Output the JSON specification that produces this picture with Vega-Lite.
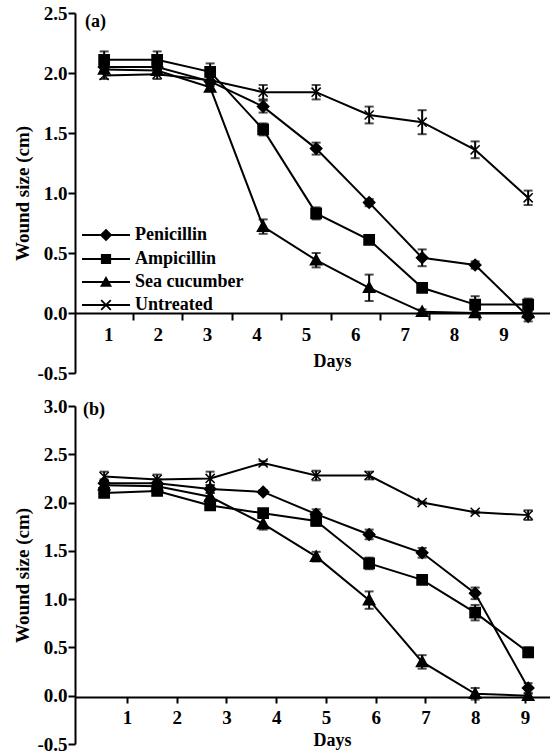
{
  "$schema": "https://vega.github.io/schema/vega-lite/v6.json",
  "background": "white",
  "padding": {"left": 13, "top": 4, "right": 0, "bottom": 0},
  "spacing": 14,
  "config": {
    "view": {"stroke": null},
    "font": "Liberation Serif",
    "axis": {"domainColor": "black", "domainWidth": 2, "tickColor": "black", "tickWidth": 2, "labelColor": "black", "titleColor": "black", "labelFont": "Liberation Serif", "titleFont": "Liberation Serif", "labelFontWeight": "bold", "titleFontWeight": "bold", "labelFontSize": 19, "titleFontSize": 18, "grid": false}
  },
  "datasets": {
    "a": [
      {"s": "Penicillin", "d": 1, "v": 2.05, "lo": 2.01, "hi": 2.09},
      {"s": "Penicillin", "d": 2, "v": 2.05, "lo": 2.01, "hi": 2.09},
      {"s": "Penicillin", "d": 3, "v": 1.93, "lo": 1.89, "hi": 1.97},
      {"s": "Penicillin", "d": 4, "v": 1.72, "lo": 1.67, "hi": 1.77},
      {"s": "Penicillin", "d": 5, "v": 1.37, "lo": 1.32, "hi": 1.42},
      {"s": "Penicillin", "d": 6, "v": 0.92, "lo": 0.89, "hi": 0.95},
      {"s": "Penicillin", "d": 7, "v": 0.46, "lo": 0.39, "hi": 0.53},
      {"s": "Penicillin", "d": 8, "v": 0.40, "lo": 0.37, "hi": 0.43},
      {"s": "Penicillin", "d": 9, "v": -0.03, "lo": -0.07, "hi": 0.01},
      {"s": "Ampicillin", "d": 1, "v": 2.11, "lo": 2.04, "hi": 2.18},
      {"s": "Ampicillin", "d": 2, "v": 2.11, "lo": 2.04, "hi": 2.18},
      {"s": "Ampicillin", "d": 3, "v": 2.01, "lo": 1.94, "hi": 2.08},
      {"s": "Ampicillin", "d": 4, "v": 1.53, "lo": 1.48, "hi": 1.58},
      {"s": "Ampicillin", "d": 5, "v": 0.83, "lo": 0.78, "hi": 0.88},
      {"s": "Ampicillin", "d": 6, "v": 0.61, "lo": 0.59, "hi": 0.63},
      {"s": "Ampicillin", "d": 7, "v": 0.21, "lo": 0.19, "hi": 0.23},
      {"s": "Ampicillin", "d": 8, "v": 0.07, "lo": 0.00, "hi": 0.14},
      {"s": "Ampicillin", "d": 9, "v": 0.07, "lo": 0.02, "hi": 0.12},
      {"s": "Sea cucumber", "d": 1, "v": 2.03, "lo": 2.00, "hi": 2.06},
      {"s": "Sea cucumber", "d": 2, "v": 2.02, "lo": 1.99, "hi": 2.05},
      {"s": "Sea cucumber", "d": 3, "v": 1.88, "lo": 1.85, "hi": 1.91},
      {"s": "Sea cucumber", "d": 4, "v": 0.72, "lo": 0.66, "hi": 0.78},
      {"s": "Sea cucumber", "d": 5, "v": 0.44, "lo": 0.38, "hi": 0.50},
      {"s": "Sea cucumber", "d": 6, "v": 0.21, "lo": 0.10, "hi": 0.32},
      {"s": "Sea cucumber", "d": 7, "v": 0.01, "lo": -0.01, "hi": 0.03},
      {"s": "Sea cucumber", "d": 8, "v": 0.00, "lo": -0.02, "hi": 0.02},
      {"s": "Sea cucumber", "d": 9, "v": 0.00, "lo": -0.02, "hi": 0.02},
      {"s": "Untreated", "d": 1, "v": 1.98, "lo": 1.95, "hi": 2.01},
      {"s": "Untreated", "d": 2, "v": 1.99, "lo": 1.95, "hi": 2.03},
      {"s": "Untreated", "d": 3, "v": 1.94, "lo": 1.90, "hi": 1.98},
      {"s": "Untreated", "d": 4, "v": 1.84, "lo": 1.78, "hi": 1.90},
      {"s": "Untreated", "d": 5, "v": 1.84, "lo": 1.78, "hi": 1.90},
      {"s": "Untreated", "d": 6, "v": 1.65, "lo": 1.58, "hi": 1.72},
      {"s": "Untreated", "d": 7, "v": 1.59, "lo": 1.49, "hi": 1.69},
      {"s": "Untreated", "d": 8, "v": 1.36, "lo": 1.29, "hi": 1.43},
      {"s": "Untreated", "d": 9, "v": 0.96, "lo": 0.90, "hi": 1.02}
    ],
    "b": [
      {"s": "Penicillin", "d": 1, "v": 2.20, "lo": 2.16, "hi": 2.24},
      {"s": "Penicillin", "d": 2, "v": 2.20, "lo": 2.16, "hi": 2.24},
      {"s": "Penicillin", "d": 3, "v": 2.14, "lo": 2.10, "hi": 2.18},
      {"s": "Penicillin", "d": 4, "v": 2.11, "lo": 2.09, "hi": 2.13},
      {"s": "Penicillin", "d": 5, "v": 1.88, "lo": 1.83, "hi": 1.93},
      {"s": "Penicillin", "d": 6, "v": 1.67, "lo": 1.62, "hi": 1.72},
      {"s": "Penicillin", "d": 7, "v": 1.48, "lo": 1.43, "hi": 1.53},
      {"s": "Penicillin", "d": 8, "v": 1.06, "lo": 1.00, "hi": 1.12},
      {"s": "Penicillin", "d": 9, "v": 0.08, "lo": 0.03, "hi": 0.13},
      {"s": "Ampicillin", "d": 1, "v": 2.10, "lo": 2.07, "hi": 2.13},
      {"s": "Ampicillin", "d": 2, "v": 2.12, "lo": 2.09, "hi": 2.15},
      {"s": "Ampicillin", "d": 3, "v": 1.97, "lo": 1.93, "hi": 2.01},
      {"s": "Ampicillin", "d": 4, "v": 1.89, "lo": 1.86, "hi": 1.92},
      {"s": "Ampicillin", "d": 5, "v": 1.81, "lo": 1.76, "hi": 1.86},
      {"s": "Ampicillin", "d": 6, "v": 1.37, "lo": 1.31, "hi": 1.43},
      {"s": "Ampicillin", "d": 7, "v": 1.20, "lo": 1.18, "hi": 1.22},
      {"s": "Ampicillin", "d": 8, "v": 0.86, "lo": 0.78, "hi": 0.94},
      {"s": "Ampicillin", "d": 9, "v": 0.45, "lo": 0.40, "hi": 0.50},
      {"s": "Sea cucumber", "d": 1, "v": 2.18, "lo": 2.14, "hi": 2.22},
      {"s": "Sea cucumber", "d": 2, "v": 2.17, "lo": 2.13, "hi": 2.21},
      {"s": "Sea cucumber", "d": 3, "v": 2.06, "lo": 2.02, "hi": 2.10},
      {"s": "Sea cucumber", "d": 4, "v": 1.78, "lo": 1.72, "hi": 1.84},
      {"s": "Sea cucumber", "d": 5, "v": 1.44, "lo": 1.39, "hi": 1.49},
      {"s": "Sea cucumber", "d": 6, "v": 0.99, "lo": 0.90, "hi": 1.08},
      {"s": "Sea cucumber", "d": 7, "v": 0.35, "lo": 0.28, "hi": 0.42},
      {"s": "Sea cucumber", "d": 8, "v": 0.02, "lo": -0.04, "hi": 0.08},
      {"s": "Sea cucumber", "d": 9, "v": 0.00, "lo": -0.02, "hi": 0.02},
      {"s": "Untreated", "d": 1, "v": 2.27, "lo": 2.22, "hi": 2.32},
      {"s": "Untreated", "d": 2, "v": 2.24, "lo": 2.19, "hi": 2.29},
      {"s": "Untreated", "d": 3, "v": 2.25, "lo": 2.18, "hi": 2.32},
      {"s": "Untreated", "d": 4, "v": 2.41, "lo": 2.39, "hi": 2.43},
      {"s": "Untreated", "d": 5, "v": 2.28, "lo": 2.23, "hi": 2.33},
      {"s": "Untreated", "d": 6, "v": 2.28, "lo": 2.24, "hi": 2.32},
      {"s": "Untreated", "d": 7, "v": 2.00, "lo": 1.99, "hi": 2.01},
      {"s": "Untreated", "d": 8, "v": 1.90, "lo": 1.89, "hi": 1.91},
      {"s": "Untreated", "d": 9, "v": 1.87, "lo": 1.82, "hi": 1.92}
    ]
  },
  "resolve": {"scale": {"shape": "independent"}, "legend": {"shape": "independent"}},
  "vconcat": [
    {
      "width": 477,
      "height": 360,
      "title": {"text": "(a)", "anchor": "start", "frame": "group", "offset": -27, "dx": 10, "fontSize": 18, "font": "Liberation Serif", "fontWeight": "bold", "color": "black"},
      "resolve": {"scale": {"x": "independent"}, "axis": {"x": "independent"}},
      "layer": [
        {
          "data": {"name": "a"},
          "mark": {"type": "point", "opacity": 0},
          "encoding": {
            "x": {"field": "d", "type": "quantitative", "scale": {"domain": [0.326, 9.982], "nice": false, "zero": false},
              "axis": {"orient": "bottom", "title": "Days", "values": [1.5, 2.5, 3.5, 4.5, 5.5, 6.5, 7.5, 8.5, 9.5], "labelExpr": "'' + floor(datum.value)", "labelOffset": -24.7, "offset": -60, "tickSize": 7, "labelPadding": 5, "labelFlush": false, "labelOverlap": false, "labelBound": false, "titleX": 257, "titlePadding": 8}}
          }
        },
        {
          "data": {"name": "a"},
          "resolve": {"scale": {"shape": "independent"}, "legend": {"shape": "independent"}},
          "encoding": {
            "x": {"field": "d", "type": "quantitative", "scale": {"domain": [0.45, 9.45], "nice": false, "zero": false}, "axis": null},
            "y": {"field": "v", "type": "quantitative", "scale": {"domain": [-0.5, 2.5], "nice": false, "zero": false},
              "axis": {"title": "Wound size (cm)", "values": [-0.5, 0, 0.5, 1, 1.5, 2, 2.5], "labelExpr": "replace(format(datum.value, '.1f'), '\u2212', '-')", "tickSize": 7, "labelPadding": 1, "titlePadding": 4, "titleFontSize": 19}}
          },
          "layer": [
            {"mark": {"type": "line", "color": "black", "strokeWidth": 2}, "encoding": {"detail": {"field": "s"}}},
            {"mark": {"type": "errorbar", "color": "black", "ticks": true, "thickness": 2, "size": 9},
              "encoding": {
                "y": {"field": "lo", "type": "quantitative", "scale": {"domain": [-0.5, 2.5], "nice": false, "zero": false},
                  "axis": {"title": "Wound size (cm)", "values": [-0.5, 0, 0.5, 1, 1.5, 2, 2.5], "labelExpr": "replace(format(datum.value, '.1f'), '\u2212', '-')", "tickSize": 7, "labelPadding": 1, "titlePadding": 4, "titleFontSize": 19}},
                "y2": {"field": "hi"}
              }},
            {"mark": {"type": "point", "filled": true, "color": "black", "stroke": "black", "strokeWidth": 1.5, "opacity": 1, "size": 130},
              "encoding": {
                "shape": {"field": "s", "type": "nominal",
                  "scale": {"domain": ["Penicillin", "Ampicillin", "Sea cucumber", "Untreated"], "range": ["M0,-1L1,0L0,1L-1,0Z", "M-0.9,-0.9H0.9V0.9H-0.9Z", "M0,-1L1,0.8H-1Z", "M-0.8,-0.8L0.8,0.8M-0.8,0.8L0.8,-0.8"]},
                  "legend": null
                }
              }},
            {"transform": [{"filter": "datum.d > 100"}],
              "mark": {"type": "point", "filled": true, "color": "black", "opacity": 1, "size": 144},
              "encoding": {
                "shape": {"field": "s", "type": "nominal",
                  "scale": {"domain": ["Penicillin", "Ampicillin", "Sea cucumber", "Untreated"], "range": [
                    "M-4,-0.15H4V0.15H-4ZM0,-1.05L1.05,0L0,1.05L-1.05,0Z",
                    "M-4,-0.15H4V0.15H-4ZM-0.85,-0.85H0.85V0.85H-0.85Z",
                    "M-4,-0.15H4V0.15H-4ZM0,-1L1,0.8H-1Z",
                    "M-4,-0.15H4V0.15H-4ZM-0.694,-0.906L0.906,0.694L0.694,0.906L-0.906,-0.694ZM-0.906,0.694L0.694,-0.906L0.906,-0.694L-0.694,0.906Z"]},
                  "legend": {"title": null, "orient": "none", "legendX": 22, "legendY": 213, "padding": 0, "symbolSize": 144, "labelFontSize": 18, "labelFont": "Liberation Serif", "labelFontWeight": "bold", "labelColor": "black", "labelOffset": 20, "rowPadding": 5, "symbolFillColor": "black", "symbolOpacity": 1}
                }
              }}
          ]
        }
      ]
    },
    {
      "width": 477,
      "height": 338,
      "title": {"text": "(b)", "anchor": "start", "frame": "group", "offset": -22, "dx": 8, "fontSize": 18, "font": "Liberation Serif", "fontWeight": "bold", "color": "black"},
      "resolve": {"scale": {"x": "independent"}, "axis": {"x": "independent"}},
      "layer": [
        {
          "data": {"name": "b"},
          "mark": {"type": "point", "opacity": 0},
          "encoding": {
            "x": {"field": "d", "type": "quantitative", "scale": {"domain": [-0.045, 9.543], "nice": false, "zero": false},
              "axis": {"orient": "bottom", "title": "Days", "values": [1, 2, 3, 4, 5, 6, 7, 8, 9], "offset": -47, "tickSize": 6, "labelPadding": 5, "labelFlush": false, "labelOverlap": false, "labelBound": false, "titleX": 257, "titlePadding": 4}}
          }
        },
        {
          "data": {"name": "b"},
          "encoding": {
            "x": {"field": "d", "type": "quantitative", "scale": {"domain": [0.45, 9.45], "nice": false, "zero": false}, "axis": null},
            "y": {"field": "v", "type": "quantitative", "scale": {"domain": [-0.5, 3.0], "nice": false, "zero": false},
              "axis": {"title": "Wound size (cm)", "values": [-0.5, 0, 0.5, 1, 1.5, 2, 2.5, 3], "labelExpr": "replace(format(datum.value, '.1f'), '\u2212', '-')", "tickSize": 7, "labelPadding": 1, "titlePadding": 4, "titleFontSize": 19}}
          },
          "layer": [
            {"mark": {"type": "line", "color": "black", "strokeWidth": 2}, "encoding": {"detail": {"field": "s"}}},
            {"mark": {"type": "errorbar", "color": "black", "ticks": true, "thickness": 2, "size": 9},
              "encoding": {
                "y": {"field": "lo", "type": "quantitative", "scale": {"domain": [-0.5, 3.0], "nice": false, "zero": false},
                  "axis": {"title": "Wound size (cm)", "values": [-0.5, 0, 0.5, 1, 1.5, 2, 2.5, 3], "labelExpr": "replace(format(datum.value, '.1f'), '\u2212', '-')", "tickSize": 7, "labelPadding": 1, "titlePadding": 4, "titleFontSize": 19}},
                "y2": {"field": "hi"}
              }},
            {"mark": {"type": "point", "filled": true, "color": "black", "stroke": "black", "strokeWidth": 1.5, "opacity": 1, "size": 130},
              "encoding": {
                "shape": {"field": "s", "type": "nominal",
                  "scale": {"domain": ["Penicillin", "Ampicillin", "Sea cucumber", "Untreated"], "range": ["M0,-1L1,0L0,1L-1,0Z", "M-0.9,-0.9H0.9V0.9H-0.9Z", "M0,-1L1,0.8H-1Z", "M-0.8,-0.8L0.8,0.8M-0.8,0.8L0.8,-0.8"]},
                  "legend": null
                }
              }}
          ]
        }
      ]
    }
  ]
}
